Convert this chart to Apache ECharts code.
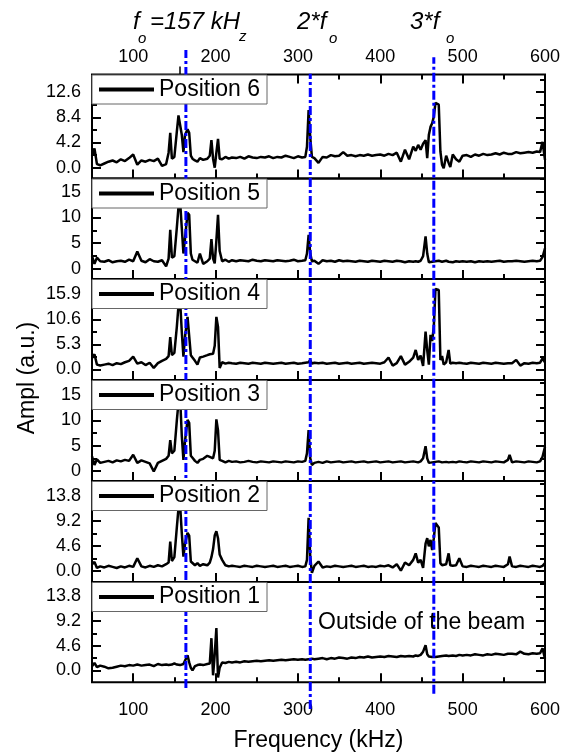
<!DOCTYPE html>
<html><head><meta charset="utf-8">
<script src="https://cdn.jsdelivr.net/npm/echarts@6/dist/echarts.min.js"></script>
<style>html,body{margin:0;padding:0;background:#fff}#c{width:571px;height:753px}</style>
</head><body><div id="c"></div>
<script>
// ---- data ----
const freq = [
  50,53,56,60,65,70,75,80,85,90,95,100,105,110,115,120,125,130,135,140,
  143,145,147,150,153,155,157,159,161,163,166,168,170,172,175,178,181,185,190,
  193,195,197,199,201,203,205,208,212,216,220,
  225,230,235,240,245,250,255,260,265,270,275,280,285,290,295,300,305,
  309,311,313,315,317,320,
  325,330,335,340,345,350,355,360,365,370,375,380,385,390,395,400,405,410,415,420,425,430,435,440,
  443,446,449,452,455,457,459,461,463,465,467,469,471,473,475,477,480,483,485,488,492,496,500,
  505,510,515,520,525,530,535,540,545,550,555,
  557,560,565,570,575,580,585,590,594,597,600
];
const pos6 = [
  2.0,3.2,0.6,0.4,0.7, 1.0,1.2,0.9,1.4,1.1, 1.6,2.2,0.5,1.2,1.0, 1.3,1.1,1.5,0.3,0.6,
  2.5,5.8,1.5,1.8,6.0, 8.7,9.0,5.5,2.6,5.5, 6.4,5.8,2.0,1.5,1.2, 1.0,1.6,1.3,1.5,
  2.0,4.6,1.5,0.0,2.5, 4.8,1.5,1.4,1.8,1.5, 1.7,
  1.6,1.8,1.5,1.9,1.7, 1.6,1.8,1.7,1.9,1.6, 1.8,1.7,2.0,1.8,1.6, 1.9,1.7,
  1.8,3.5,9.6,5.0,1.8,1.6,
  0.8,1.8,1.7,2.1,1.9, 2.0,2.6,2.0,2.1,1.9, 2.1,2.0,2.2,2.0,2.1, 2.2,2.0,2.3,2.1,2.5, 1.0,3.0,1.4,3.5,
  2.8,3.8,3.0,4.0,4.6, 1.6,5.5,6.8,7.4,8.5, 10.8,10.6,10.5,2.7,0.5, -0.1,2.0,0.8,0.1,2.2, 1.4,1.0,2.0,
  2.1,1.8,2.2,2.0,2.3, 2.1,2.2,2.4,2.2,2.5, 2.3,
  2.4,2.3,2.6,2.4,2.5, 2.6,2.5,2.7,2.6,4.3, 1.3
];
const pos5 = [
  2.5,1.0,2.2,1.5,1.4, 1.7,1.3,1.5,1.6,1.4, 1.8,1.5,3.4,1.6,1.3, 1.9,1.5,1.4,1.7,0.5,
  2.0,7.6,2.2,2.5,8.0, 12.0,13.0,8.0,3.0,6.0, 10.9,10.5,3.0,1.8,1.5, 1.2,3.0,1.0,1.5,
  2.0,5.8,2.0,1.1,5.5, 10.5,3.5,1.5,1.8,1.4, 1.7,
  1.5,1.7,1.6,1.5,1.8, 1.6,1.5,1.7,1.6,1.5, 1.7,1.6,1.5,1.6,1.8, 1.5,1.6,
  1.7,3.0,6.6,3.0,1.5,1.6,
  1.0,1.7,1.5,1.6,1.4, 1.7,1.5,1.6,1.5,1.4, 1.6,1.5,1.4,1.6,1.5, 1.4,1.6,1.5,1.4,1.6, 1.5,1.3,1.5,1.4,
  1.5,1.4,1.6,2.5,6.3, 3.0,1.3,1.5,1.4,1.6, 1.5,1.4,1.6,1.5,1.4, 1.5,1.6,1.4,1.5,1.3, 1.5,1.4,1.5,
  1.4,1.5,1.3,1.5,1.4, 1.5,1.4,1.5,1.6,1.4, 1.5,
  1.4,1.5,1.6,1.5,1.4, 1.5,1.6,1.5,1.6,2.3, 4.0
];
const pos4 = [
  2.4,3.2,1.0,0.8,1.0, 1.2,0.9,1.3,1.1,1.5, 1.8,2.7,1.2,1.5,0.9, 1.4,0.3,1.3,1.8,2.2,
  2.8,6.8,3.0,3.5,9.0, 13.5,14.5,8.0,2.7,7.0, 11.1,10.8,3.0,2.5,1.8, 1.0,2.5,2.7,3.0,
  3.2,3.5,3.3,5.0,11.1, 9.0,0.3,1.5,1.2,1.4, 1.3,
  1.2,1.4,1.3,1.2,1.4, 1.3,1.2,1.4,1.3,1.2, 1.3,1.4,1.2,1.3,1.4, 1.2,1.3,
  1.4,1.3,1.5,2.0,1.2,1.4,
  1.3,1.4,1.2,1.3,1.4, 1.2,1.3,1.4,1.2,1.3, 1.4,1.2,1.3,1.4,1.3, 1.2,1.5,2.5,0.8,1.3, 2.8,1.0,1.6,2.5,
  4.1,2.0,2.9,0.7,8.0, 4.0,1.0,7.3,6.0,9.0, 17.0,17.2,16.8,2.0,2.8, 1.0,1.5,4.1,1.2,1.4, 1.3,1.4,1.3,
  1.2,1.4,1.3,1.2,1.4, 1.3,1.2,1.4,1.3,1.2, 1.3,
  1.4,1.3,2.0,0.8,1.3, 1.2,1.4,1.3,1.4,2.3, 1.5
];
const pos3 = [
  2.9,1.2,2.3,1.6,1.8, 2.0,1.7,2.1,1.9,2.2, 2.0,3.2,1.6,2.1,1.8, 1.5,-0.1,1.6,2.0,2.4,
  3.0,6.1,3.5,4.0,10.0, 13.5,14.5,7.0,2.2,6.0, 10.1,9.5,3.0,2.6,2.0, 1.6,2.2,2.4,3.0,
  2.8,3.0,2.5,4.0,10.2, 8.0,2.2,2.0,1.7,2.0, 1.8,
  1.9,1.7,1.8,2.0,1.8, 1.7,1.9,1.8,1.7,1.9, 1.8,1.7,1.9,1.8,1.7, 1.9,1.8,
  2.0,3.5,8.1,2.5,1.2,1.6,
  1.8,1.6,1.9,1.7,1.8, 1.9,1.7,1.8,1.9,1.7, 1.8,1.9,1.7,1.8,1.9, 1.7,1.8,1.9,1.7,1.8, 1.9,1.7,1.8,1.9,
  1.8,1.7,1.9,2.5,4.9, 2.5,1.6,1.8,1.7,1.9, 1.8,1.7,1.9,1.8,1.7, 1.9,1.8,1.7,1.9,1.8, 1.7,1.9,1.8,
  1.7,1.9,1.8,1.7,1.9, 1.8,1.7,1.9,1.8,1.7, 2.2,
  3.2,1.7,1.9,1.8,1.7, 1.9,1.8,1.7,1.9,2.8, 4.8
];
const pos2 = [
  1.2,1.6,0.5,0.8,0.6, 0.9,0.7,0.5,0.8,0.6, 0.9,0.7,2.3,0.8,0.6, 0.9,0.7,1.0,0.8,1.2,
  1.5,5.4,1.8,2.5,8.0, 11.5,12.1,7.0,2.6,5.0, 7.0,6.5,1.7,1.5,1.0, 1.4,0.9,1.2,1.0,
  1.5,2.5,4.0,6.5,7.3, 6.0,3.0,2.0,1.0,0.8, 0.9,
  0.8,0.7,0.9,0.8,0.7, 0.9,0.8,0.7,0.8,0.9, 0.7,0.8,0.9,0.7,0.8, 0.9,0.7,
  0.8,2.0,9.8,2.5,-0.4,0.9,
  1.7,0.6,0.8,0.7,0.9, 0.8,0.7,0.8,0.9,0.7, 0.8,0.9,0.7,0.8,0.7, 0.9,0.8,1.0,0.6,1.2, 0.0,1.5,1.0,2.0,
  3.2,1.5,2.0,0.5,5.0, 6.0,4.5,5.7,3.8,6.0, 8.8,8.8,8.0,1.4,1.0, 0.8,1.2,3.2,1.0,0.9, 1.0,2.3,0.8,
  0.7,0.9,0.8,0.7,0.9, 0.8,0.7,0.9,0.8,0.7, 1.2,
  2.6,0.8,0.7,0.9,0.8, 0.7,0.9,0.8,0.7,0.9, 1.4
];
const pos1 = [
  0.8,1.4,0.6,0.9,0.7, 0.4,0.5,0.7,0.9,0.8, 1.0,0.9,1.1,0.9,1.0, 1.1,0.8,1.2,1.0,1.1,
  1.0,1.2,1.1,1.3,1.1, 1.2,1.0,1.3,1.2,1.4, 2.8,1.5,0.5,0.0,0.8, 1.0,1.1,1.0,1.2,
  1.3,6.0,-0.9,3.0,7.9, -1.3,0.5,1.5,1.4,1.6, 1.5,
  1.6,1.5,1.7,1.6,1.7, 1.8,1.7,1.8,1.9,1.8, 1.9,2.0,1.9,2.0,2.1, 2.0,2.1,
  2.0,2.2,2.1,2.0,2.2,2.1,
  2.2,2.3,2.1,2.3,2.2, 2.4,2.3,2.2,2.4,2.3, 2.5,2.4,2.6,2.4,2.5, 2.6,2.5,2.7,2.6,2.5, 2.7,2.6,2.7,2.6,
  2.8,2.7,2.9,3.5,4.7, 3.0,2.6,2.7,2.5,2.6, 2.5,2.7,2.6,2.8,2.7, 2.6,2.8,2.7,2.9,2.8, 2.7,2.9,2.8,
  2.9,2.8,3.0,2.9,2.8, 3.0,2.9,3.1,3.0,2.9, 3.1,
  3.0,3.1,3.0,3.5,3.1, 3.0,3.2,3.1,3.2,4.1, 2.2
];
const seriesNames = ['Position 6','Position 5','Position 4','Position 3','Position 2','Position 1'];
const seriesValues = [pos6, pos5, pos4, pos3, pos2, pos1];
const yTickLabels = [
  [0, 4.2, 8.4, 12.6], [0, 5, 10, 15], [0, 5.3, 10.6, 15.9],
  [0, 5, 10, 15], [0, 4.6, 9.2, 13.8], [0, 4.6, 9.2, 13.8]
];
const yMinorTicks = [
  [2.1, 6.3, 10.5, 14.7], [2.5, 7.5, 12.5, 17.5], [2.65, 7.95, 13.25, 18.55],
  [2.5, 7.5, 12.5, 17.5], [2.3, 6.9, 11.5, 16.1], [2.3, 6.9, 11.5, 16.1]
];
const yDecimals = [1, 0, 1, 0, 1, 1];
const yMins = [-1.8, -1.94, -2.26, -1.98, -2.09, -2.2];
const yMaxs = [15.53, 17.54, 19.13, 17.98, 16.58, 16.45];
const xTickLabels = [100, 200, 300, 400, 500, 600];
const xMinorTicks = [150, 250, 350, 450, 550];
const fundamentalMark = [157];
const harmonicFreqs = [164, 315, 465];
const harmonicSpans = [[0.032, 1.0], [0.0, 0.964], [0.023, 0.989]];

// ---- layout ----
const panelTops = [74.5, 178.5, 279, 380, 481, 582];
const panelBottoms = [178.5, 279, 380, 481, 582, 682.3];
const FONT = '"Liberation Sans", Arial, sans-serif';
const W = 571, H = 753, L = 92, R = 26;

const grids = [], xAxes = [], yAxes = [], legends = [], series = [];
const tickLine = { color: '#000', width: 2 };
function xAxisBase(gi, extra) {
  return Object.assign({
    type: 'value', gridIndex: gi, min: 50, max: 600, position: 'bottom',
    axisLine: { show: false, onZero: false }, splitLine: { show: false },
    axisLabel: { show: false }, axisTick: { show: false }
  }, extra);
}
function yAxisBase(gi, i, extra) {
  return Object.assign({
    type: 'value', gridIndex: gi, min: yMins[i], max: yMaxs[i], position: 'left',
    axisLine: { show: false, onZero: false }, splitLine: { show: false },
    axisLabel: { show: false }, axisTick: { show: false }
  }, extra);
}
for (let i = 0; i < 6; i++) {
  grids.push({ left: L, right: R, top: panelTops[i], height: panelBottoms[i] - panelTops[i],
    show: true, borderColor: '#000', borderWidth: 2, backgroundColor: 'transparent' });
  const xi = xAxes.length;
  xAxes.push(xAxisBase(i, {
    axisTick: { show: true, inside: true, length: 9, lineStyle: tickLine, customValues: xTickLabels },
    axisLabel: i === 5 ? { show: true, customValues: xTickLabels, margin: 19, fontSize: 18, color: '#000', fontFamily: FONT } : { show: false }
  }));
  xAxes.push(xAxisBase(i, {
    axisTick: { show: true, inside: true, length: 5, lineStyle: tickLine, customValues: xMinorTicks }
  }));
  if (i === 0) {
    xAxes.push(xAxisBase(i, { position: 'top',
      axisTick: { show: true, inside: true, length: 9, lineStyle: tickLine, customValues: xTickLabels },
      axisLabel: { show: true, customValues: xTickLabels, margin: 8, fontSize: 18, color: '#000', fontFamily: FONT }
    }));
    xAxes.push(xAxisBase(i, { position: 'top',
      axisTick: { show: true, inside: true, length: 5, lineStyle: tickLine, customValues: xMinorTicks }
    }));
    xAxes.push(xAxisBase(i, { position: 'top',
      axisTick: { show: true, inside: false, length: 8, lineStyle: { color: '#000', width: 1.5 }, customValues: fundamentalMark }
    }));
  }
  const yi = yAxes.length;
  const dec = yDecimals[i];
  yAxes.push(yAxisBase(i, i, {
    axisTick: { show: true, inside: true, length: 9, lineStyle: tickLine, customValues: yTickLabels[i] },
    axisLabel: { show: true, customValues: yTickLabels[i], margin: 11, fontSize: 18, color: '#000', fontFamily: FONT,
      formatter: v => Number(v).toFixed(dec) }
  }));
  yAxes.push(yAxisBase(i, i, {
    axisTick: { show: true, inside: true, length: 5, lineStyle: tickLine, customValues: yMinorTicks[i] }
  }));
  yAxes.push(yAxisBase(i, i, { position: 'right',
    axisTick: { show: true, inside: true, length: 9, lineStyle: tickLine, customValues: yTickLabels[i] }
  }));
  yAxes.push(yAxisBase(i, i, { position: 'right',
    axisTick: { show: true, inside: true, length: 5, lineStyle: tickLine, customValues: yMinorTicks[i] }
  }));
  series.push({
    name: seriesNames[i], type: 'line', xAxisIndex: xi, yAxisIndex: yi,
    data: freq.map((f, j) => [f, seriesValues[i][j]]),
    showSymbol: false, symbol: 'none', lineStyle: { color: '#000', width: 2.5 }, itemStyle: { color: '#000' },
    z: 2, silent: true
  });
  legends.push({
    data: [{ name: seriesNames[i], icon: 'rect' }], left: L, top: panelTops[i] + 0.5,
    itemWidth: 55, itemHeight: 4, padding: [3, 7, 3, 7], itemGap: 0,
    borderColor: '#666', borderWidth: 1, backgroundColor: '#fff', selectedMode: false,
    textStyle: { fontSize: 23, color: '#000', fontFamily: FONT }
  });
}
// overlay grid for harmonic markers
const og = grids.length;
grids.push({ left: L, right: R, top: 50, bottom: H - 709, show: false });
const oxi = xAxes.length;
xAxes.push({ type: 'value', gridIndex: og, min: 50, max: 600, show: false });
const oyi = yAxes.length;
yAxes.push({ type: 'value', gridIndex: og, min: 0, max: 1, show: false });
harmonicFreqs.forEach((f, k) => {
  series.push({
    type: 'line', xAxisIndex: oxi, yAxisIndex: oyi, silent: true, z: 3,
    data: [[f, harmonicSpans[k][0]], [f, harmonicSpans[k][1]]],
    showSymbol: false, symbol: 'none',
    lineStyle: { color: '#0000ff', width: 3, type: [9, 3, 3, 3] }
  });
});

function txt(x, y, text, font, extra) {
  return Object.assign({ type: 'text', x: x, y: y, z: 10,
    style: { text: text, font: font, fill: '#000', textAlign: 'left', align: 'left', textVerticalAlign: 'middle', verticalAlign: 'middle' } }, extra || {});
}
const IT = 'italic 24px ' + FONT, SUB = 'italic 15px ' + FONT;
const graphics = [
  txt(133, 22, 'f', IT), txt(138, 39, 'o', SUB), txt(150, 22, '=157 kH', IT), txt(239, 37, 'z', SUB),
  txt(297, 22, '2*f', IT), txt(329, 39, 'o', SUB),
  txt(410, 22, '3*f', IT), txt(446, 39, 'o', SUB),
  txt(318, 623, 'Outside of the beam', '23px ' + FONT),
  { type: 'text', x: 318.5, y: 741, z: 10, style: { text: 'Frequency (kHz)', font: '23px ' + FONT, fill: '#000', textAlign: 'center', align: 'center', textVerticalAlign: 'middle', verticalAlign: 'middle' } },
  { type: 'text', x: 28, y: 378, rotation: Math.PI / 2, z: 10, style: { text: 'Ampl (a.u.)', font: '23px ' + FONT, fill: '#000', textAlign: 'center', align: 'center', textVerticalAlign: 'middle', verticalAlign: 'middle' } }
];

const chart = echarts.init(document.getElementById('c'), null, { renderer: 'canvas', width: W, height: H });
chart.setOption({
  animation: false, backgroundColor: '#fff',
  grid: grids, xAxis: xAxes, yAxis: yAxes, legend: legends, series: series, graphic: graphics
});
</script></body></html>
